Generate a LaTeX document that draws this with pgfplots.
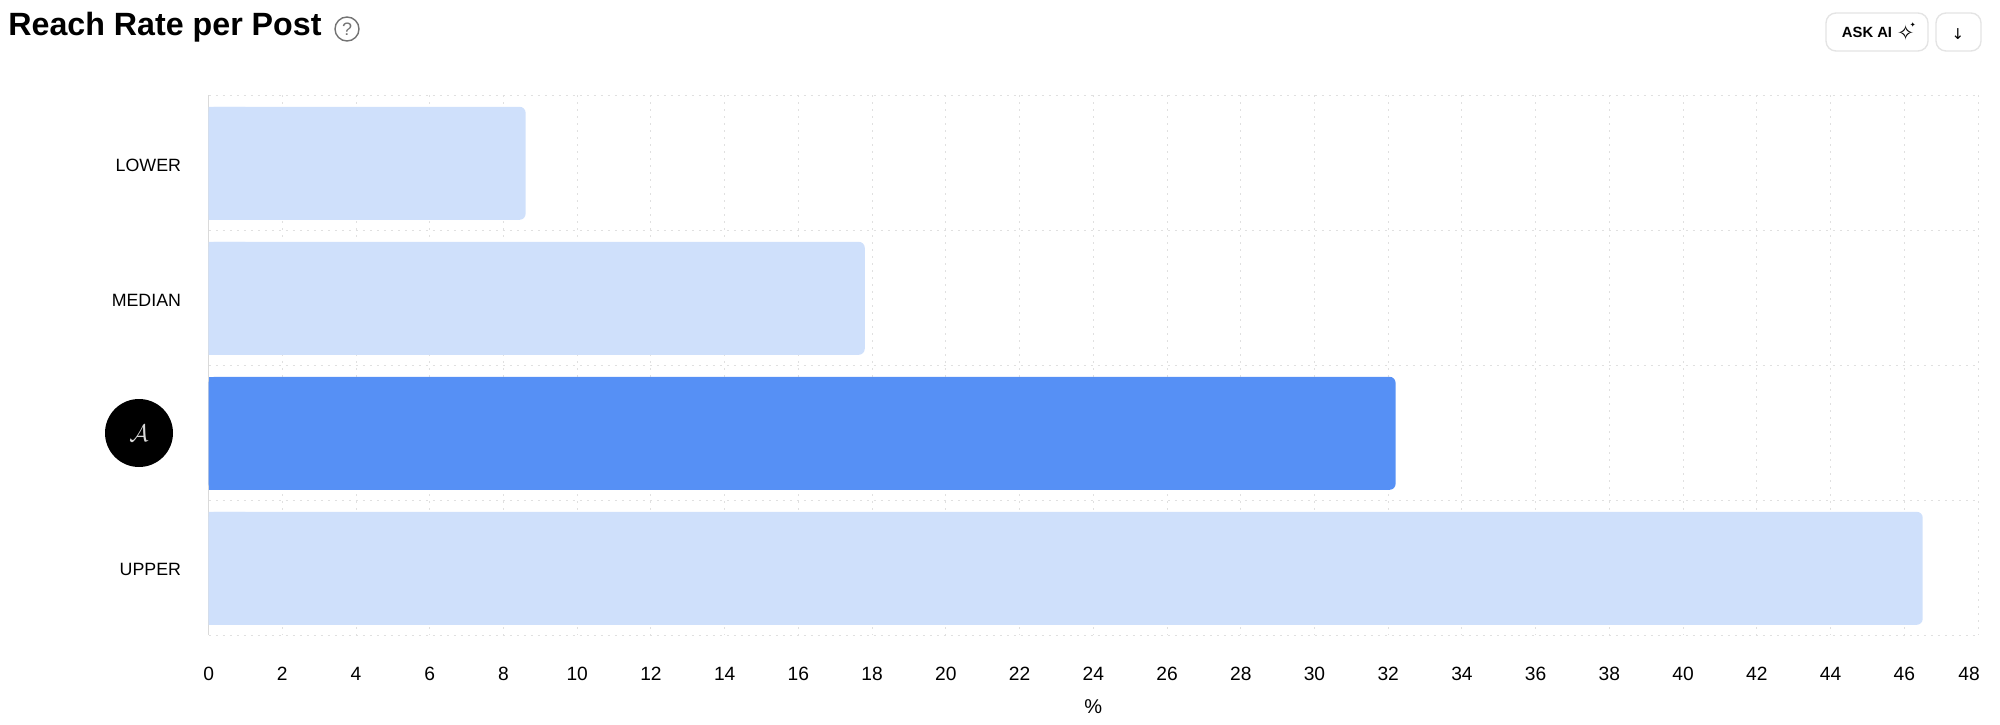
\documentclass[border=0pt]{standalone}
\usepackage{fontspec}
\setmainfont{Liberation Sans}
\newfontfamily\symfont{DejaVu Sans}
\usepackage{pgfplots}
\usepackage{pgfplotstable}
\pgfplotsset{compat=1.18}
\definecolor{lightbar}{RGB}{207,224,251}
\definecolor{darkbar}{RGB}{86,144,245}
\definecolor{gridc}{RGB}{224,224,224}
\definecolor{axisc}{RGB}{218,218,218}
\definecolor{btn}{RGB}{228,228,228}
\pgfplotstableread{
val pos
8.6 0
17.8 1
46.5 3
}\benchmarks
\pgfplotstableread{
val pos
32.2 2
}\account
\begin{document}
\begin{tikzpicture}[x=1pt,y=1pt]
\useasboundingbox (0,0) rectangle (1000,362);
\begin{axis}[
  name=main,
  at={(104.3pt,44.5pt)},anchor=south west,
  scale only axis,width=884.7pt,height=270pt,
  xmin=0,xmax=48,ymin=-0.5,ymax=3.5,y dir=reverse,
  xtick={0,2,...,48},
  xticklabels={0,2,4,6,8,10,12,14,16,18,20,22,24,26,28,30,32,34,36,38,40,42,44,46,48\hspace*{9pt}},
  ytick={0,1,2,3},yticklabels={LOWER,MEDIAN,,UPPER},
  minor ytick={-0.5,0.5,1.5,2.5,3.5},
  xmajorgrids,yminorgrids,
  major grid style={draw=gridc,line width=0.5pt,dash pattern=on 1pt off 2.5pt},
  minor grid style={draw=gridc,line width=0.5pt,dash pattern=on 1pt off 2.5pt},
  major tick length=0pt,minor tick length=0pt,
  axis x line*=bottom,axis y line*=left,
  x axis line style={draw=none},
  y axis line style={draw=axisc,line width=0.6pt,-},
  /pgf/number format/assume math mode=true,
  tick label style={font=\fontsize{9.6}{11}\selectfont,text=black,inner sep=0pt},
  xticklabel style={anchor=north,yshift=-15.7pt},
  yticklabel style={anchor=east,xshift=-13.6pt,yshift=-1.2pt,font=\fontsize{8.9}{11}\selectfont},
  xlabel={\%},
  xlabel style={font=\fontsize{9.6}{11}\selectfont,inner sep=0pt},
  every axis x label/.style={at={(axis description cs:0.5,0)},anchor=center,yshift=-35.6pt},
  xbar,bar shift=-0.4pt,bar width=56.5pt,
]
\addplot[fill=lightbar,draw=none,rounded corners=3pt] table[x=val,y=pos]{\benchmarks};
\addplot[fill=darkbar,draw=none,rounded corners=3pt] table[x=val,y=pos]{\account};
\end{axis}
% square left ends of the same bars: same data, axis clipped to its first unit
\begin{axis}[
  at={(104.3pt,44.5pt)},anchor=south west,
  scale only axis,width=18.4pt,height=270pt,
  xmin=0,xmax=1,ymin=-0.5,ymax=3.5,y dir=reverse,
  hide axis,
  xbar,bar shift=-0.4pt,bar width=56.5pt,
]
\addplot[fill=lightbar,draw=none] table[x=val,y=pos]{\benchmarks};
\addplot[fill=darkbar,draw=none] table[x=val,y=pos]{\account};
\end{axis}
% title and interface elements
\node[anchor=base west,inner sep=0pt,font=\fontsize{16.1}{18}\selectfont\bfseries] at (4,344.3) {Reach Rate per Post};
\draw[draw=black!55,line width=0.7pt] (173.5,347.5) circle (6pt);
\node[text=black!55,font=\fontsize{9}{10}\selectfont,inner sep=0pt] at (173.5,347.5) {?};
\draw[draw=btn,line width=0.7pt,rounded corners=5pt] (913,336.5) rectangle (964,355.5);
\draw[draw=btn,line width=0.7pt,rounded corners=5pt] (968,336.5) rectangle (990.5,355.5);
\node[inner sep=0pt,font=\fontsize{7.4}{9}\selectfont\bfseries,anchor=center] at (933.5,346) {ASK AI};
\node[inner sep=0pt,font=\symfont\bfseries\fontsize{10.5}{11}\selectfont] at (952.8,345.7) {✧};
\node[inner sep=0pt,font=\symfont\fontsize{3.5}{4}\selectfont] at (956.4,349.3) {✦};
\node[inner sep=0pt,font=\symfont\fontsize{7.5}{9}\selectfont] at (979,345) {↓};
% avatar
\fill[black] (69.5,145.5) circle (17pt);
\node[inner sep=0pt,text=white!85!black,font=\fontsize{12}{13}\selectfont] at (69.5,145.5) {$\mathcal{A}$};
\end{tikzpicture}
\end{document}
